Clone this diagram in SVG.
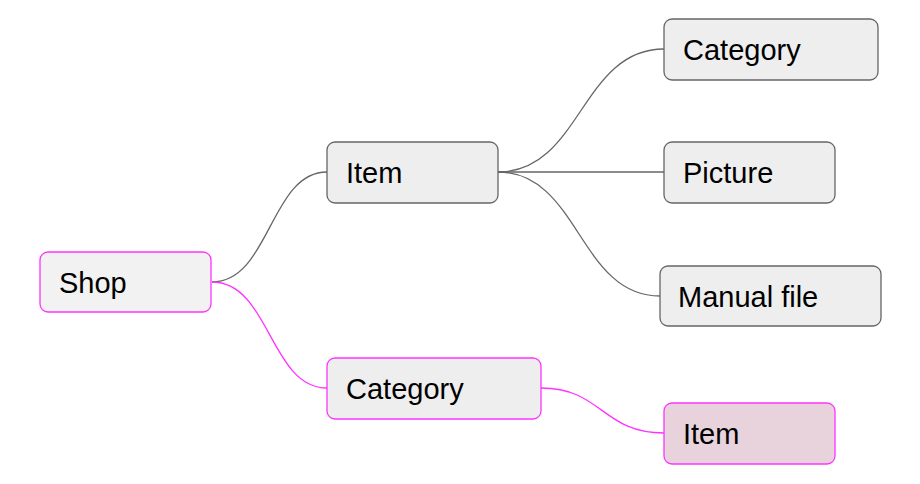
<svg xmlns="http://www.w3.org/2000/svg" width="920" height="484" viewBox="0 0 920 484">
<style>
.n{fill:#eeeeee;stroke:#666666;stroke-width:1.3}
.p{stroke:#ff33ff}
.t{font-family:"Liberation Sans",Arial,sans-serif;font-size:29px;fill:#000000}
.c{fill:none;stroke:#666666;stroke-width:1.3}
.cp{fill:none;stroke:#ff33ff;stroke-width:1.3}
</style>
<rect width="920" height="484" fill="#ffffff"/>
<g id="connectors">
<path class="c" d="M212,282 C270,282 270,172 327,172"/>
<path class="cp" d="M212,282 C270,282 270,388 327,388"/>
<path class="c" d="M498,172 C581,172 581,49 664,49"/>
<path class="c" d="M498,172 L664,172"/>
<path class="c" d="M498,172 C579,172 579,296 660,296"/>
<path class="cp" d="M541,388 C602,388 602,433 664,433"/>
</g>
<g id="shop">
<rect class="n p" x="40" y="252" width="171" height="60" rx="8" style="fill:#f2f2f2"/>
<text class="t" x="59" y="293">Shop</text>
</g>
<g id="item">
<rect class="n" x="327" y="142" width="171" height="61" rx="8"/>
<text class="t" x="346" y="183">Item</text>
</g>
<g id="category">
<rect class="n p" x="327" y="358" width="214" height="61" rx="8"/>
<text class="t" x="346" y="399">Category</text>
</g>
<g id="item-category">
<rect class="n" x="664" y="19" width="214" height="61" rx="8"/>
<text class="t" x="683" y="60">Category</text>
</g>
<g id="item-picture">
<rect class="n" x="664" y="142" width="171" height="61" rx="8"/>
<text class="t" x="683" y="183">Picture</text>
</g>
<g id="item-manual">
<rect class="n" x="660" y="266" width="221" height="60" rx="8"/>
<text class="t" x="678" y="307">Manual file</text>
</g>
<g id="category-item">
<rect class="n p" x="664" y="403" width="171" height="61" rx="8" style="fill:#e8d3dc"/>
<text class="t" x="683" y="444">Item</text>
</g>
</svg>
